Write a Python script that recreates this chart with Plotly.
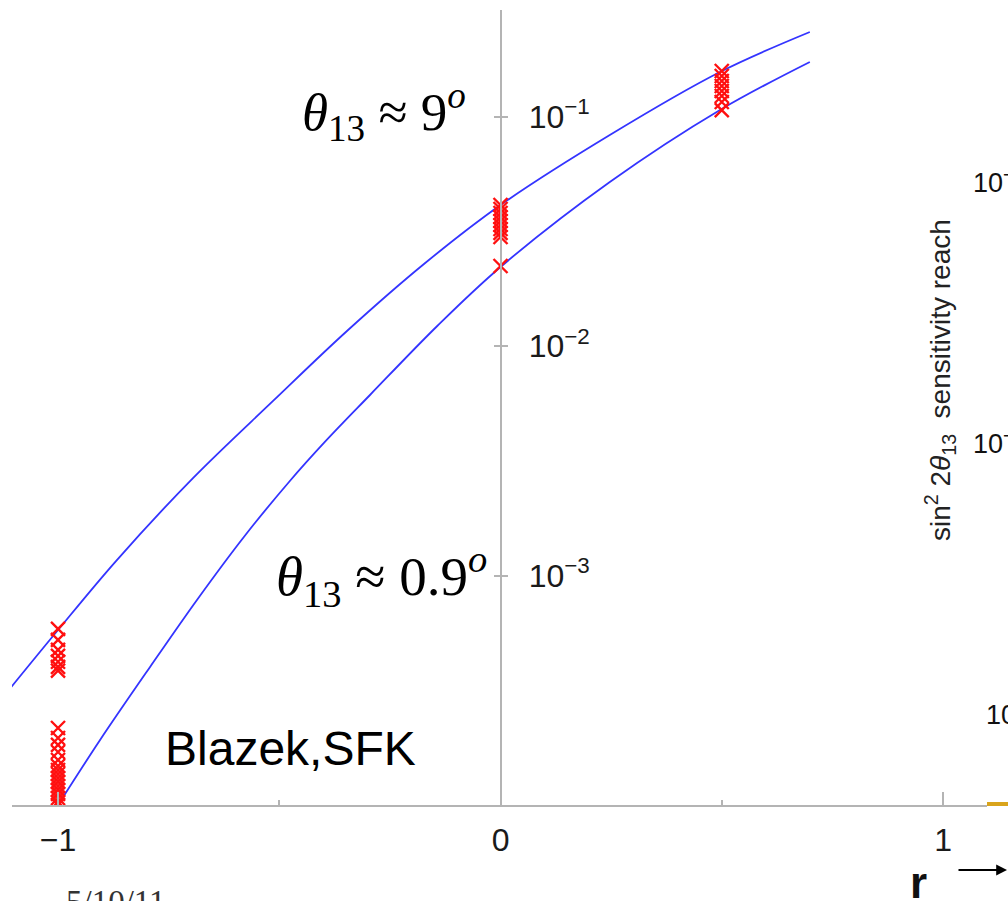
import plotly.graph_objects as go

# ---------------- data ----------------
# curve for theta13 ~ 9 deg
r_upper = [-1.113, -1.0, -0.869, -0.695, -0.514, -0.347, -0.173, 0.0, 0.247, 0.496, 0.699]
s_upper = [3.14e-4, 5.79e-4, 1.157e-3, 2.66e-3, 5.77e-3, 0.01164, 0.0228, 0.04121,
           0.0832, 0.1566, 0.2339]

# curve for theta13 ~ 0.9 deg
r_lower = [-1.02, -1.0, -0.905, -0.792, -0.686, -0.580, -0.478, -0.397, -0.295,
           -0.143, 0.0, 0.247, 0.496, 0.699]
s_lower = [8.69e-5, 1.0e-4, 1.92e-4, 3.996e-4, 7.83e-4, 1.473e-3, 2.558e-3, 3.822e-3,
           6.123e-3, 0.01224, 0.02213, 0.05193, 0.107, 0.1732]

# model points at r = -1, 0, 0.5
pts_m1 = [5.86e-4, 5.24e-4, 4.74e-4, 4.47e-4, 4.21e-4, 4.00e-4, 3.85e-4,
          2.166e-4, 1.959e-4, 1.827e-4, 1.702e-4, 1.571e-4, 1.479e-4, 1.421e-4,
          1.365e-4, 1.311e-4, 1.260e-4, 1.210e-4, 1.163e-4, 1.117e-4, 1.073e-4,
          1.030e-4, 1.0e-4]
pts_0 = [0.04121, 0.03959, 0.03804, 0.03653, 0.0351, 0.03373, 0.0324, 0.03113,
         0.0299, 0.02235]
pts_half = [0.1582, 0.1504, 0.1431, 0.1361, 0.1294, 0.1231, 0.1159, 0.1069]

x_ticks = [-1, 0, 1]
y_ticks = [1e-3, 1e-2, 1e-1]
y_ticktext = ["10<sup>\u22123</sup>", "10<sup>\u22122</sup>", "10<sup>\u22121</sup>"]

# ---------------- layout geometry ----------------
W, H = 1008, 901
ML, MR, MT, MB = 12, 21, 10, 96
PW, PH = W - ML - MR, H - MT - MB
X_RANGE = [-1.104, 1.0994]
Y_RANGE = [-4.0, -0.535]


def px(xp):
    return (xp - ML) / PW


def py(yp):
    return (H - MB - yp) / PH


AXIS_GRAY = "#b4b4b4"
BLUE = "#3434ff"
RED = "#ff1010"

fig = go.Figure()

for rr, ss in ((r_upper, s_upper), (r_lower, s_lower)):
    fig.add_trace(go.Scatter(
        x=rr, y=ss, mode="lines",
        line=dict(color=BLUE, width=1.8, shape="spline", smoothing=1.0),
        hoverinfo="skip", showlegend=False,
    ))

for xv, pts in ((-1.0, pts_m1), (0.0, pts_0), (0.5, pts_half)):
    fig.add_trace(go.Scatter(
        x=[xv] * len(pts), y=pts, mode="markers",
        marker=dict(symbol="x-thin", size=14, line=dict(color=RED, width=2.4)),
        showlegend=False, hoverinfo="skip",
    ))

# second y axis carries the tick stubs on the left side of the centre axis
fig.add_trace(go.Scatter(x=[None], y=[None], yaxis="y2", showlegend=False))

y0pos = px(500.5)

fig.update_layout(
    width=W, height=H,
    margin=dict(l=ML, r=MR, t=MT, b=MB, pad=0),
    paper_bgcolor="white", plot_bgcolor="white",
    xaxis=dict(
        range=X_RANGE, showgrid=False, zeroline=False,
        showline=True, linecolor=AXIS_GRAY, linewidth=2,
        ticks="inside", ticklen=13, tickwidth=1.5, tickcolor=AXIS_GRAY,
        tickvals=x_ticks,
        minor=dict(tickvals=[-0.5, 0.5], ticks="inside", ticklen=5, tickcolor=AXIS_GRAY),
        tickfont=dict(family="Liberation Sans, Arial, sans-serif", size=32, color="#1a1a1a"),
        ticklabelstandoff=6,
    ),
    yaxis=dict(
        type="log", range=Y_RANGE, anchor="free", position=y0pos, side="right",
        showgrid=False, zeroline=False,
        showline=True, linecolor=AXIS_GRAY, linewidth=1.5,
        ticks="outside", ticklen=7, tickwidth=1.5, tickcolor=AXIS_GRAY,
        tickvals=y_ticks, ticktext=y_ticktext,
        tickfont=dict(family="Liberation Sans, Arial, sans-serif", size=32, color="#1a1a1a"),
        ticklabelstandoff=14,
    ),
    yaxis2=dict(
        type="log", range=Y_RANGE, overlaying="y", anchor="free", position=y0pos, side="left",
        showgrid=False, zeroline=False, showline=False,
        ticks="outside", ticklen=7, tickwidth=1.5, tickcolor=AXIS_GRAY,
        tickvals=y_ticks, showticklabels=False,
    ),
)

serif = "Liberation Serif, Times New Roman, serif"
sans = "Liberation Sans, Arial, sans-serif"

annotations = [
    dict(text="<i>\u03b8</i><sub>13</sub> \u2248 9<sup><i>o</i></sup>",
         x=px(300), y=py(112), xanchor="left", yanchor="middle",
         font=dict(family=serif, size=53, color="black")),
    dict(text="<i>\u03b8</i><sub>13</sub> \u2248 0.9<sup><i>o</i></sup>",
         x=px(274), y=py(576), xanchor="left", yanchor="middle",
         font=dict(family=serif, size=55, color="black")),
    dict(text="Blazek,SFK", x=px(163), y=py(748), xanchor="left", yanchor="middle",
         font=dict(family=sans, size=48, color="black")),
    dict(text="5/10/11", x=px(64), y=py(882), xanchor="left", yanchor="top",
         font=dict(family=serif, size=33, color="#333333")),
    dict(text="<b>r</b>", x=px(918), y=py(882), xanchor="center", yanchor="middle",
         font=dict(family=sans, size=44, color="#111111")),
    dict(text="sin<sup>2</sup> 2<i>\u03b8</i><sub>13</sub>  sensitivity reach",
         x=px(940), y=py(380), xanchor="center", yanchor="middle", textangle=-90,
         font=dict(family=sans, size=28, color="#222222")),
    dict(text="10<sup>\u22121</sup>", x=px(971), y=py(181), xanchor="left", yanchor="middle",
         font=dict(family=sans, size=27, color="#111111")),
    dict(text="10<sup>\u22122</sup>", x=px(971), y=py(442), xanchor="left", yanchor="middle",
         font=dict(family=sans, size=27, color="#111111")),
    dict(text="10<sup>\u22123</sup>", x=px(984), y=py(713), xanchor="left", yanchor="middle",
         font=dict(family=sans, size=27, color="#111111")),
    # arrow pointing right next to "r"
    dict(text="", x=px(1008), y=py(870), ax=-51, ay=0, showarrow=True,
         arrowhead=2, arrowsize=1.2, arrowwidth=1.8, arrowcolor="black"),
]
for a in annotations:
    a.setdefault("xref", "paper")
    a.setdefault("yref", "paper")
    a.setdefault("showarrow", False)
fig.update_layout(annotations=annotations)

# short gold segment at the lower right edge
fig.add_shape(type="line", xref="paper", yref="paper",
              x0=px(987), x1=px(1010), y0=py(804), y1=py(804),
              line=dict(color="#d9a41c", width=4))

fig.write_html("out.html")
